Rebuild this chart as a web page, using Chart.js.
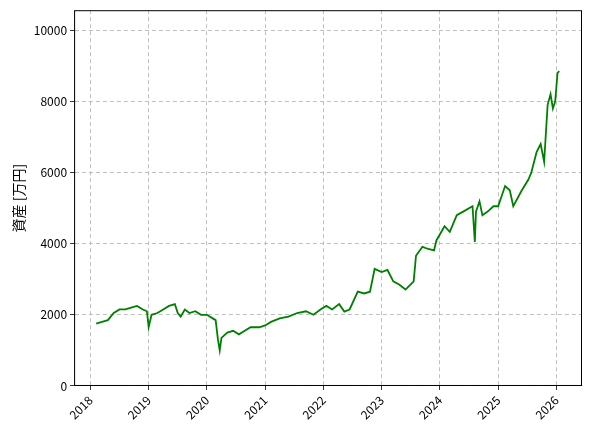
<!DOCTYPE html>
<html><head><meta charset="utf-8">
<script src="https://cdn.jsdelivr.net/npm/chart.js@4"></script>
<style>body{margin:0;background:#fff}#w{width:592px;height:433px}</style>
</head><body><div id="w"><canvas id="c"></canvas></div>
<script>
const years = [2018.1,2018.2,2018.3,2018.4,2018.5,2018.6,2018.7,2018.8,2018.9,2018.97,2019.0,2019.05,2019.15,2019.25,2019.35,2019.45,2019.5,2019.55,2019.62,2019.7,2019.8,2019.9,2020.0,2020.1,2020.15,2020.19,2020.22,2020.25,2020.35,2020.45,2020.55,2020.65,2020.75,2020.9,2021.0,2021.1,2021.25,2021.4,2021.55,2021.7,2021.83,2021.95,2022.05,2022.15,2022.27,2022.36,2022.45,2022.59,2022.7,2022.8,2022.88,2023.0,2023.1,2023.2,2023.3,2023.41,2023.55,2023.59,2023.7,2023.8,2023.9,2023.94,2024.08,2024.17,2024.29,2024.4,2024.56,2024.6,2024.62,2024.68,2024.73,2024.82,2024.92,2025.0,2025.12,2025.2,2025.26,2025.4,2025.52,2025.57,2025.66,2025.73,2025.79,2025.85,2025.9,2025.94,2025.98,2026.02,2026.05];
const assets = [1750,1800,1850,2050,2150,2150,2200,2250,2150,2100,1650,2000,2050,2150,2250,2300,2050,1950,2150,2050,2100,2000,2000,1900,1850,1300,1000,1350,1500,1550,1450,1550,1650,1650,1700,1800,1900,1950,2050,2100,2000,2150,2250,2150,2300,2090,2150,2650,2600,2650,3290,3200,3260,2940,2850,2710,2940,3660,3910,3850,3810,4090,4490,4330,4800,4900,5050,4050,4900,5190,4800,4900,5050,5050,5620,5500,5050,5480,5800,6000,6570,6800,6300,7900,8200,7800,8000,8800,8850];
const yTicks = [0,2000,4000,6000,8000,10000];
const xTicks = [2018,2019,2020,2021,2022,2023,2024,2025,2026];
const pts = years.map((x,i)=>({x, y:assets[i]}));
const grid = {color:'#b0b0b0', lineWidth:0.8, drawTicks:true, tickColor:'#000', tickLength:4};
const border = {display:true,color:'#b0b0b0',dash:[4,3],width:0.8};
const frame = {id:'frame',afterDraw(c){const a=c.chartArea,x=c.ctx;x.save();x.strokeStyle='#000';x.lineWidth=1;x.setLineDash([]);x.strokeRect(a.left+0.5,a.top+0.5,a.right-a.left-1,a.bottom-a.top-1);x.restore();}};
const tf = {size:12,family:'Noto Sans CJK JP'};
new Chart(document.getElementById('c'),{
  type:'line',
  data:{datasets:[{data:pts,borderColor:'#008000',borderWidth:1.8,pointRadius:0,tension:0}]},
  options:{responsive:true,maintainAspectRatio:false,animation:false,
    layout:{padding:{top:10,right:10,left:6,bottom:8}},
    plugins:{legend:{display:false},tooltip:{enabled:false}},
    scales:{
      x:{type:'linear',min:2017.72,max:2026.44,border,grid:{...grid,borderDash:[4,3]},
        afterBuildTicks:s=>{s.ticks=xTicks.map(v=>({value:v}));},
        ticks:{color:'#000',font:tf,maxRotation:45,minRotation:45,callback:v=>String(v)}},
      y:{min:0,max:10560,border,grid,
        afterBuildTicks:s=>{s.ticks=yTicks.map(v=>({value:v}));},
        title:{display:true,text:'資産 [万円]',color:'#000',font:{size:14,family:'Noto Sans CJK JP'}},
        ticks:{color:'#000',font:tf,callback:v=>String(v)}}
    }},
  plugins:[frame]
});
</script></body></html>
